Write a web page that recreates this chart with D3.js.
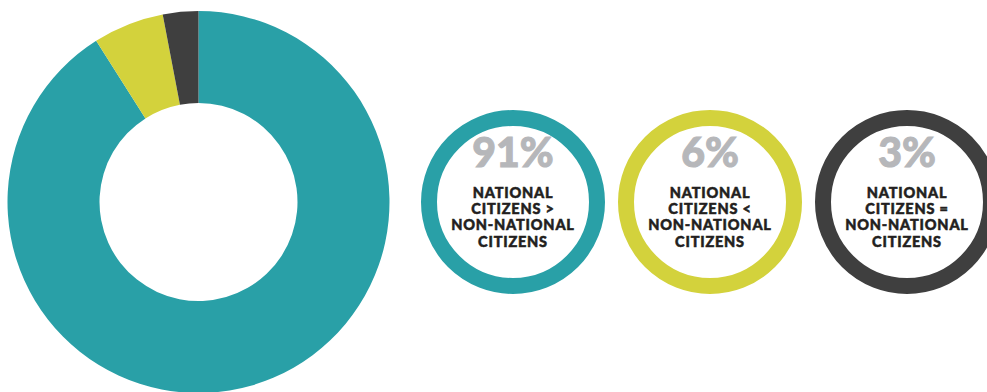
<!DOCTYPE html>
<html>
<head>
<meta charset="utf-8">
<script src="https://cdn.jsdelivr.net/npm/d3@7"></script>
<style>
  html, body { margin: 0; padding: 0; background: #fff; }
  svg { display: block; }
  text { font-family: Lato, "Open Sans", sans-serif; }
</style>
</head>
<body>
<svg id="chart" width="987" height="392"></svg>
<script>
// Share of cases by relation between national and non-national citizens
const categories = ["NATIONAL CITIZENS > NON-NATIONAL CITIZENS",
                    "NATIONAL CITIZENS < NON-NATIONAL CITIZENS",
                    "NATIONAL CITIZENS = NON-NATIONAL CITIZENS"];
const labelLines = [
  ["NATIONAL", "CITIZENS >", "NON-NATIONAL", "CITIZENS"],
  ["NATIONAL", "CITIZENS <", "NON-NATIONAL", "CITIZENS"],
  ["NATIONAL", "CITIZENS =", "NON-NATIONAL", "CITIZENS"]
];
const values = [91, 6, 3];
const colors = ["#29a0a7", "#d3d23c", "#3f3f3f"];

const svg = d3.select("#chart");

// Main donut
const pie = d3.pie().sort(null).value(d => d);
const arc = d3.arc().innerRadius(99).outerRadius(191);
const color = d3.scaleOrdinal().domain(categories).range(colors);

svg.append("g")
  .attr("transform", "translate(198.5,202)")
  .selectAll("path")
  .data(pie(values))
  .join("path")
  .attr("d", arc)
  .attr("fill", (d, i) => color(categories[i]));

// Legend rings with percentage and label
const xPos = d3.scalePoint().domain(categories).range([513, 907]);

const badge = svg.selectAll("g.badge")
  .data(categories)
  .join("g")
  .attr("class", "badge")
  .attr("transform", d => `translate(${xPos(d)},202)`);

badge.append("circle")
  .attr("r", 84)
  .attr("fill", "#fff")
  .attr("stroke", d => color(d))
  .attr("stroke-width", 16);

badge.append("text")
  .attr("text-anchor", "middle")
  .attr("y", -35)
  .attr("fill", "#b6b7ba")
  .attr("stroke", "#b6b7ba")
  .attr("stroke-width", 1)
  .attr("font-size", 41)
  .attr("font-weight", 900)
  .text((d, i) => values[i] + "%");

badge.each(function(d, i) {
  const t = d3.select(this).append("text")
    .attr("text-anchor", "middle")
    .attr("fill", "#231f20")
    .attr("stroke", "#231f20")
    .attr("stroke-width", 0.5)
    .attr("font-size", 14.5)
    .attr("font-weight", 900)
    .attr("letter-spacing", 0.8);
  labelLines[i].forEach((line, j) => {
    t.append("tspan").attr("x", 0).attr("y", -4 + j * 16.2).text(line);
  });
});
</script>
</body>
</html>
